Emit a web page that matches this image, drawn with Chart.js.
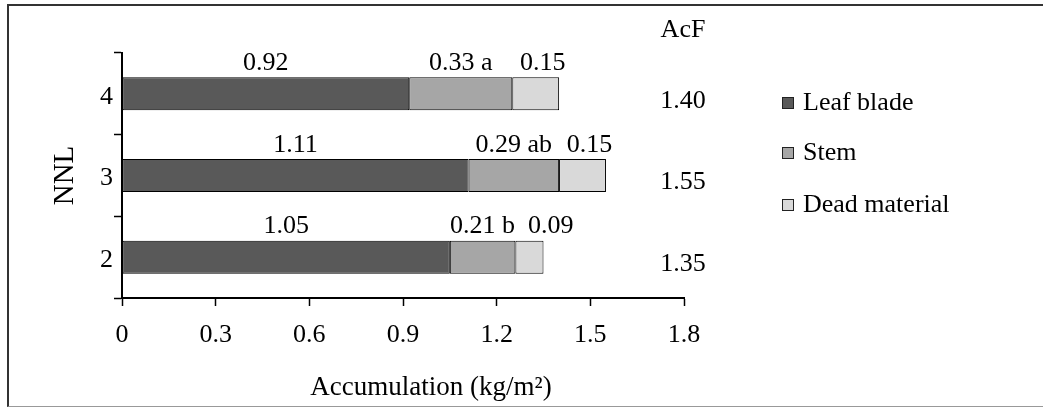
<!DOCTYPE html>
<html lang="en">
<head>
    <meta charset="UTF-8">
    <title>Accumulation by NNL</title>
    <script src="https://cdn.jsdelivr.net/npm/chart.js"></script>
    <style>
        body {
            margin: 0;
            background: #fff;
            overflow: hidden;
            font-family: "Liberation Serif", "DejaVu Serif", serif;
        }
        .frame {
            position: absolute;
            left: 7px;
            top: 4px;
            width: 1034px;
            height: 400px;
            border-top: 2px solid #333;
            border-left: 2px solid #333;
            border-bottom: 1px solid #999;
        }
        .chart-box {
            position: absolute;
            left: 0;
            top: 0;
            width: 1043px;
            height: 409px;
        }
    </style>
</head>
<body>
    <div class="frame"></div>
    <div class="chart-box">
        <canvas id="accChart" width="1043" height="409"></canvas>
    </div>

    <script>
        // data
        const categories = ['4', '3', '2'];
        const leafBlade = [0.92, 1.11, 1.05];
        const stem = [0.33, 0.29, 0.21];
        const deadMaterial = [0.15, 0.15, 0.09];
        const stemLetters = ['a', 'ab', 'b'];
        const acf = [1.40, 1.55, 1.35];
        const xTicks = [0, 0.3, 0.6, 0.9, 1.2, 1.5, 1.8];

        const serif = '"Liberation Serif", "DejaVu Serif", serif';

        // labels above the bars, AcF column, legend and x title
        const annotate = {
            id: 'annotate',
            afterDatasetsDraw(chart) {
                const ctx = chart.ctx;
                const area = chart.chartArea;
                const y = chart.scales.y;
                ctx.save();
                ctx.fillStyle = '#000';
                ctx.textBaseline = 'middle';
                ctx.textAlign = 'center';
                ctx.font = '26px ' + serif;

                categories.forEach((c, i) => {
                    const texts = [
                        leafBlade[i].toFixed(2),
                        stem[i].toFixed(2) + ' ' + stemLetters[i],
                        deadMaterial[i].toFixed(2)
                    ];
                    let prevRight = -Infinity;
                    chart.data.datasets.forEach((ds, d) => {
                        const bar = chart.getDatasetMeta(d).data[i];
                        const cx = (bar.x + bar.base) / 2;
                        const w = ctx.measureText(texts[d]).width;
                        let x = cx;
                        if (d === 2) x = Math.max(cx + 7, prevRight + 13 + w / 2);
                        const top = bar.y - bar.height / 2;
                        ctx.fillText(texts[d], x, top - 14);
                        prevRight = x + w / 2;
                    });
                    ctx.fillText(acf[i].toFixed(2), area.right - 1, y.getPixelForValue(i) + 7);
                });
                ctx.fillText('AcF', area.right - 1, area.top - 23);

                // legend
                ctx.textAlign = 'left';
                const rows = [103, 153, 205];
                chart.data.datasets.forEach((ds, d) => {
                    ctx.fillStyle = ds.backgroundColor;
                    ctx.fillRect(782, rows[d] - 6, 12, 12);
                    ctx.strokeStyle = '#222';
                    ctx.lineWidth = 1;
                    ctx.strokeRect(782.5, rows[d] - 5.5, 11, 11);
                    ctx.fillStyle = '#000';
                    ctx.fillText(ds.label, 803, rows[d]);
                });

                // x axis title
                ctx.textAlign = 'center';
                ctx.font = '27px ' + serif;
                ctx.fillText('Accumulation (kg/m\u00B2)', 431, 388);
                ctx.restore();
            }
        };

        function drawChart() {
            const ctx = document.getElementById('accChart').getContext('2d');
            new Chart(ctx, {
                type: 'bar',
                data: {
                    labels: categories,
                    datasets: [
                        { label: 'Leaf blade', data: leafBlade, backgroundColor: '#595959' },
                        { label: 'Stem', data: stem, backgroundColor: '#a6a6a6' },
                        { label: 'Dead material', data: deadMaterial, backgroundColor: '#d9d9d9' }
                    ]
                },
                options: {
                    indexAxis: 'y',
                    responsive: false,
                    animation: false,
                    datasets: {
                        bar: {
                            borderColor: '#000',
                            borderWidth: 1,
                            borderSkipped: false,
                            categoryPercentage: 1,
                            barPercentage: 0.404
                        }
                    },
                    layout: {
                        padding: { top: 53, right: 359, left: 0, bottom: 0 }
                    },
                    plugins: {
                        legend: { display: false },
                        tooltip: { enabled: false }
                    },
                    scales: {
                        x: {
                            stacked: true,
                            min: 0,
                            max: 1.8,
                            afterBuildTicks: (scale) => {
                                scale.ticks = xTicks.map(v => ({ value: v }));
                            },
                            afterFit: (scale) => { scale.height = 111; },
                            grid: {
                                drawOnChartArea: false,
                                drawTicks: true,
                                tickLength: 8,
                                tickWidth: 1.5,
                                tickColor: '#000'
                            },
                            border: { display: true, color: '#000', width: 2 },
                            ticks: {
                                color: '#000',
                                padding: 14,
                                font: { family: serif, size: 26 },
                                callback: (v) => String(v)
                            }
                        },
                        y: {
                            stacked: true,
                            afterFit: (scale) => { scale.width = 122; },
                            grid: {
                                offset: true,
                                drawOnChartArea: false,
                                drawTicks: true,
                                tickLength: 8,
                                tickWidth: 1.5,
                                tickColor: '#000'
                            },
                            border: { display: true, color: '#000', width: 2 },
                            ticks: {
                                color: '#000',
                                padding: 1,
                                labelOffset: 3,
                                font: { family: serif, size: 26 }
                            },
                            title: {
                                display: true,
                                text: 'NNL',
                                color: '#000',
                                padding: { top: 48, bottom: 0 },
                                font: { family: serif, size: 29 }
                            }
                        }
                    }
                },
                plugins: [annotate]
            });
        }

        // make sure the serif face is ready before the canvas uses it
        document.fonts.load('26px "Liberation Serif"').then(drawChart, drawChart);
    </script>
</body>
</html>
